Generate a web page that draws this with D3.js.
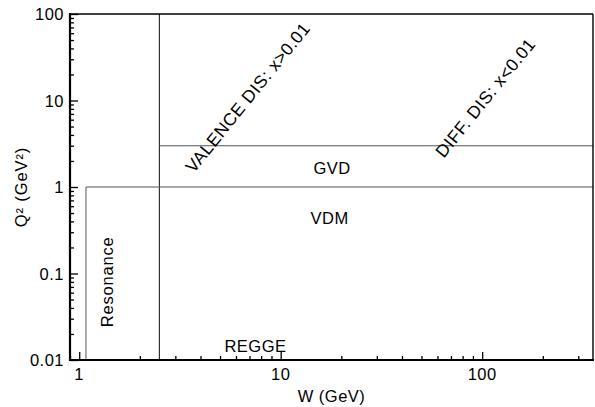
<!DOCTYPE html>
<html>
<head>
<meta charset="utf-8">
<script src="https://cdn.jsdelivr.net/npm/d3@7"></script>
<style>
  html, body { margin: 0; padding: 0; background: #fff; }
  svg text { font-family: "Liberation Sans", Arial, Helvetica, sans-serif; fill: #000; }
</style>
</head>
<body>
<svg id="chart" width="595" height="407"></svg>
<script>
// ---- data ----
const xDomain = [0.9, 355];          // W (GeV)
const yDomain = [0.01, 100];         // Q^2 (GeV^2)
const xMajorTicks = [1, 10, 100];
const xTickLabels = ["1", "10", "100"];
const yMajorTicks = [0.01, 0.1, 1, 10, 100];
const yTickLabels = ["0.01", "0.1", "1", "10", "100"];
// boundaries
const boundaryW = [2.5, 1.08];
const boundaryQ2 = [1, 3];
const regionNames = ["GVD", "VDM", "REGGE"];
const regionW = [18, 17.5, 7.5];
const regionQ2 = [1.66, 0.43, 0.0125];
const resonanceLabel = "Resonance";
const resonancePos = [1.38, 0.08];
const diagLabels = ["VALENCE DIS: x>0.01", "DIFF. DIS: x<0.01"];
const diagW = [3.7, 64.5];
const diagQ2 = [1.42, 2.12];

// ---- layout ----
const L = 70, R = 593, T = 14, B = 360;
const svg = d3.select("#chart");
const x = d3.scaleLog().domain(xDomain).range([L, R]);
const y = d3.scaleLog().domain(yDomain).range([B, T]);

function minors(domain) {
  const out = [];
  for (let e = -3; e <= 3; e++) {
    for (let k = 2; k <= 9; k++) {
      const v = k * Math.pow(10, e);
      if (v >= domain[0] && v <= domain[1]) out.push(v);
    }
  }
  return out;
}

const g = svg.append("g");
g.append("line")
  .attr("x1", x(boundaryW[0])).attr("x2", x(boundaryW[0]))
  .attr("y1", y(yDomain[0])).attr("y2", y(yDomain[1]))
  .attr("stroke", "#222").attr("stroke-width", 1.1);
g.append("line")
  .attr("x1", x(boundaryW[1])).attr("x2", x(boundaryW[1]))
  .attr("y1", y(yDomain[0])).attr("y2", y(boundaryQ2[0]))
  .attr("stroke", "#666").attr("stroke-width", 1.1);
g.append("line")
  .attr("x1", x(boundaryW[1])).attr("x2", x(xDomain[1]))
  .attr("y1", y(boundaryQ2[0])).attr("y2", y(boundaryQ2[0]))
  .attr("stroke", "#555").attr("stroke-width", 1.1);
g.append("line")
  .attr("x1", x(boundaryW[0])).attr("x2", x(xDomain[1]))
  .attr("y1", y(boundaryQ2[1])).attr("y2", y(boundaryQ2[1]))
  .attr("stroke", "#555").attr("stroke-width", 1.1);

svg.append("line").attr("x1", L).attr("x2", R).attr("y1", T).attr("y2", T)
  .attr("stroke", "#000").attr("stroke-width", 1.6);
svg.append("line").attr("x1", R).attr("x2", R).attr("y1", T).attr("y2", B)
  .attr("stroke", "#000").attr("stroke-width", 1.4);

const xAxisMajor = d3.axisTop(x).tickValues(xMajorTicks).tickSize(8).tickFormat("");
const xAxisMinor = d3.axisTop(x).tickValues(minors(xDomain)).tickSize(4).tickFormat("");
const yAxisMajor = d3.axisRight(y).tickValues(yMajorTicks).tickSize(8).tickFormat("");
const yAxisMinor = d3.axisRight(y).tickValues(minors(yDomain)).tickSize(4).tickFormat("");

function styleAxis(sel) {
  sel.select(".domain").remove();
  sel.selectAll(".tick line").attr("stroke", "#000").attr("stroke-width", 1.3);
}
svg.append("g").attr("transform", `translate(0,${B})`).call(xAxisMajor).call(styleAxis);
svg.append("g").attr("transform", `translate(0,${B})`).call(xAxisMinor).call(styleAxis);
svg.append("g").attr("transform", `translate(${L},0)`).call(yAxisMajor).call(styleAxis);
svg.append("g").attr("transform", `translate(${L},0)`).call(yAxisMinor).call(styleAxis);

svg.append("line").attr("x1", L).attr("x2", L).attr("y1", T - 1).attr("y2", B + 1)
  .attr("stroke", "#000").attr("stroke-width", 2.2);
svg.append("line").attr("x1", L - 1).attr("x2", R + 1).attr("y1", B).attr("y2", B)
  .attr("stroke", "#000").attr("stroke-width", 2.2);

const FS = 16.5, LS = 0.5;
svg.append("g").selectAll("text").data(xMajorTicks).join("text")
  .attr("x", d => x(d)).attr("y", B + 20)
  .attr("text-anchor", "middle").attr("font-size", FS).attr("letter-spacing", LS)
  .text((d, i) => xTickLabels[i]);
svg.append("g").selectAll("text").data(yMajorTicks).join("text")
  .attr("x", L - 6).attr("y", d => y(d) + 6)
  .attr("text-anchor", "end").attr("font-size", FS).attr("letter-spacing", LS)
  .text((d, i) => yTickLabels[i]);

svg.append("text").attr("x", (L + R) / 2).attr("y", 402)
  .attr("text-anchor", "middle").attr("font-size", FS).attr("letter-spacing", LS)
  .text("W (GeV)");
svg.append("text").attr("transform", `translate(27,${(T + B) / 2}) rotate(-90)`)
  .attr("text-anchor", "middle").attr("font-size", FS).attr("letter-spacing", 0.9)
  .text("Q² (GeV²)");

svg.append("g").selectAll("text").data(regionNames).join("text")
  .attr("x", (d, i) => x(regionW[i])).attr("y", (d, i) => y(regionQ2[i]))
  .attr("text-anchor", "middle").attr("dy", (d, i) => i === 2 ? 0 : "0.35em")
  .attr("font-size", FS).attr("letter-spacing", LS)
  .text(d => d);
svg.append("text")
  .attr("transform", `translate(${x(resonancePos[0])},${y(resonancePos[1])}) rotate(-90)`)
  .attr("text-anchor", "middle").attr("dy", "0.35em")
  .attr("font-size", FS).attr("letter-spacing", 0.8)
  .text(resonanceLabel);

svg.append("g").selectAll("text").data(diagLabels).join("text")
  .attr("transform", (d, i) => `translate(${x(diagW[i])},${y(diagQ2[i])}) rotate(-51)`)
  .attr("text-anchor", "start")
  .attr("font-size", 17.5).attr("letter-spacing", 0.5)
  .text(d => d);
</script>
</body>
</html>
